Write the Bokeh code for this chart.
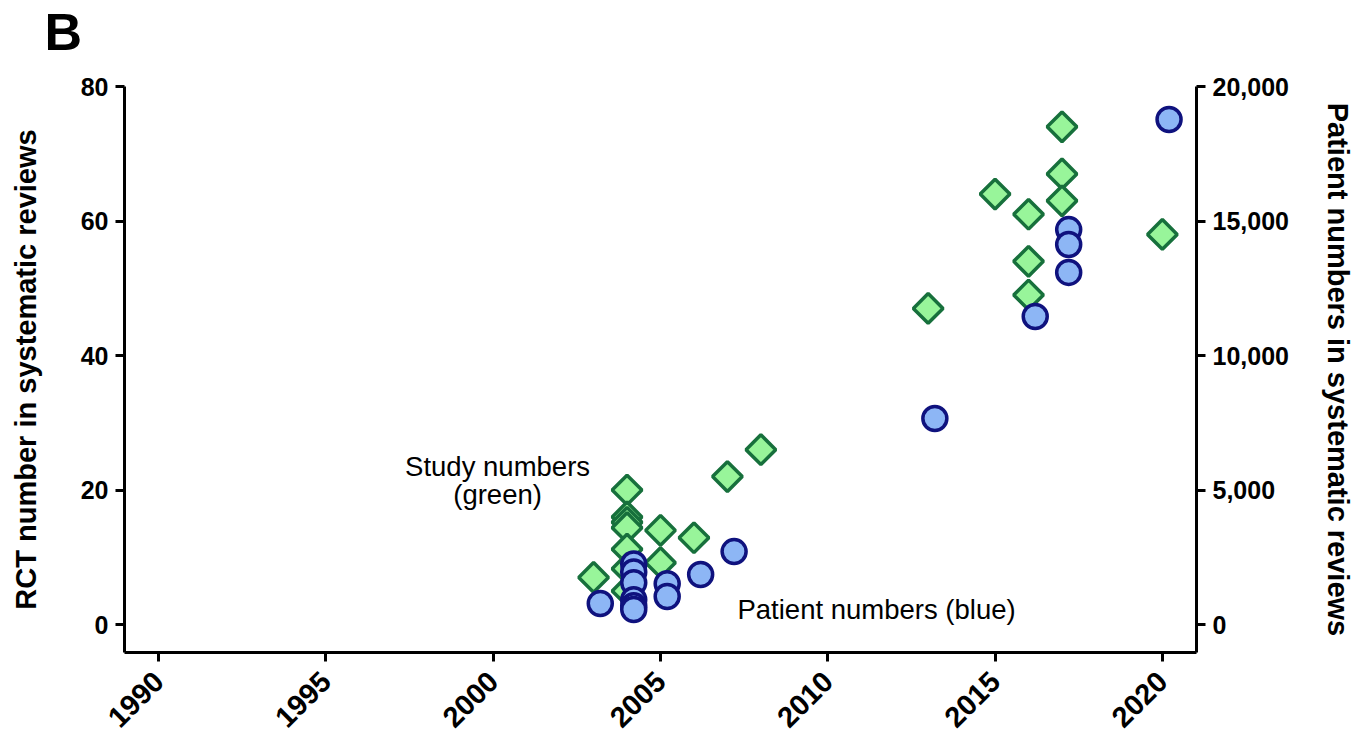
import math
from bokeh.plotting import figure
from bokeh.models import Range1d, LinearAxis, FixedTicker, NumeralTickFormatter, ColumnDataSource, Title
from bokeh.embed import file_html
from bokeh.resources import INLINE
from bokeh.core.properties import value

# ---- data ----
study_year = [2003, 2004, 2004, 2004, 2004, 2004, 2004, 2004, 2005, 2005, 2006,
              2007, 2008, 2013, 2015, 2016, 2016, 2016, 2017, 2017, 2017, 2020]
study_rct = [7, 20, 16, 15.2, 14.4, 11.2, 8.3, 5, 14, 9.2, 12.9,
             22, 26, 47, 64, 61, 54, 49, 74, 67, 63, 58]

patient_year = [2003.2, 2004.2, 2004.2, 2004.2, 2004.2, 2004.2, 2004.2, 2005.2, 2005.2,
                2006.2, 2007.2, 2013.2, 2016.2, 2017.2, 2017.2, 2017.2, 2020.2]
patient_n = [780, 2250, 1950, 1550, 920, 700, 560, 1520, 1040,
             1860, 2710, 7660, 11450, 14680, 14130, 13090, 18770]

x_ticks = [1990, 1995, 2000, 2005, 2010, 2015, 2020]
left_ticks = [0, 20, 40, 60, 80]
right_ticks = [0, 5000, 10000, 15000, 20000]

note_text = ["Study numbers", "(green)", "Patient numbers (blue)"]
note_x = [2000.13, 2000.13, 2007.3]
note_y = [23.45, 19.4, 2.3]
note_align = ["center", "center", "left"]

FONT = "Liberation Sans"

p = figure(width=1358, height=740, output_backend="svg", toolbar_location=None,
           x_range=Range1d(1988.98, 2021.02), y_range=Range1d(-4.16, 80),
           min_border_left=124, min_border_right=162, min_border_top=86, min_border_bottom=88)
p.title = None
p.extra_y_ranges = {"patients": Range1d(-1040, 20000)}
right_axis = LinearAxis(y_range_name="patients")
p.add_layout(right_axis, "right")

# spacer nearest the frame, then the panel letter above it
p.add_layout(Title(text=" ", text_font_size="1px", standoff=21), "above")
p.add_layout(Title(text="B", align="left", offset=-80, standoff=0, vertical_align="top",
                   text_font=FONT, text_font_size="52px", text_font_style="bold",
                   text_color="black"), "above")

p.outline_line_color = None
p.xgrid.visible = False
p.ygrid.visible = False
p.background_fill_color = "white"
p.border_fill_color = "white"

for ax in [p.xaxis[0], p.yaxis[0], right_axis]:
    ax.axis_line_width = 3
    ax.axis_line_color = "black"
    ax.major_tick_line_width = 3
    ax.major_tick_line_color = "black"
    ax.major_tick_out = 9
    ax.major_tick_in = 0
    ax.minor_tick_out = 0
    ax.minor_tick_in = 0
    ax.major_label_text_font = FONT
    ax.major_label_text_font_size = "25px"
    ax.major_label_text_font_style = "bold"
    ax.major_label_text_color = "black"
    ax.major_label_standoff = 7
    ax.axis_label_text_font = FONT
    ax.axis_label_text_font_size = "29px"
    ax.axis_label_text_font_style = "bold"
    ax.axis_label_text_color = "black"

p.xaxis[0].ticker = FixedTicker(ticks=x_ticks)
p.xaxis[0].major_label_orientation = math.pi / 4
p.xaxis[0].major_label_text_font_size = "29px"
p.xaxis[0].major_label_standoff = 15
p.yaxis[0].ticker = FixedTicker(ticks=left_ticks)
p.yaxis[0].axis_label = "RCT number in systematic reviews"
p.yaxis[0].axis_label_standoff = 36
right_axis.ticker = FixedTicker(ticks=right_ticks)
right_axis.formatter = NumeralTickFormatter(format="0,0")
right_axis.axis_label = "Patient numbers in systematic reviews"
right_axis.axis_label_standoff = 30

study_src = ColumnDataSource(dict(x=study_year, y=study_rct))
pat_src = ColumnDataSource(dict(x=patient_year, y=patient_n))

p.scatter("x", "y", source=study_src, marker="square", angle=math.pi / 4, size=21,
          fill_color="#98F59A", line_color="#17703C", line_width=3.5)
p.scatter("x", "y", source=pat_src, y_range_name="patients", marker="circle", size=24,
          fill_color="#8DB6F5", line_color="#0F127E", line_width=3.5)

note_src = ColumnDataSource(dict(x=note_x, y=note_y, text=note_text, align=note_align))
p.text("x", "y", text="text", source=note_src, text_align="align", text_baseline="alphabetic",
       text_font=value(FONT), text_font_size="27.5px", text_color="black")

open("out.html", "w").write(file_html(p, INLINE))
